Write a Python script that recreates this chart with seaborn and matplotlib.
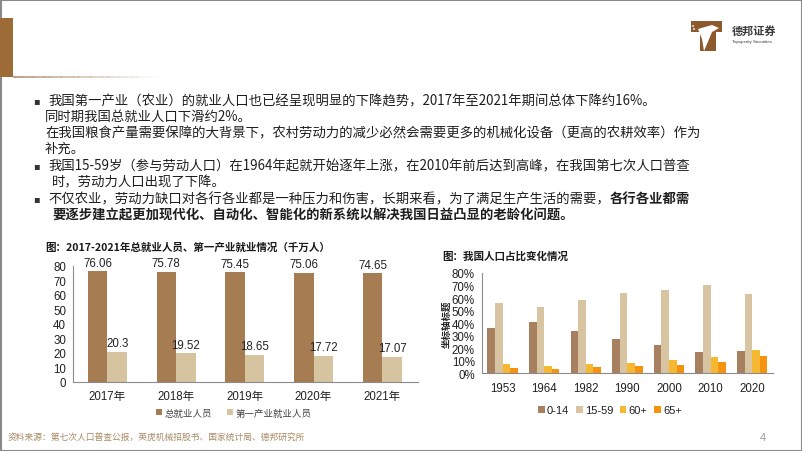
import matplotlib
matplotlib.use("Agg")
import matplotlib.pyplot as plt
import seaborn as sns
import pandas as pd
from matplotlib.patches import Rectangle, Polygon, Circle
from matplotlib.font_manager import FontProperties

# ---------------- data ----------------
emp_years = ["2017年", "2018年", "2019年", "2020年", "2021年"]
emp_total = [76.06, 75.78, 75.45, 75.06, 74.65]
emp_primary = [20.3, 19.52, 18.65, 17.72, 17.07]
emp_series = ["总就业人员", "第一产业就业人员"]

pop_years = ["1953", "1964", "1982", "1990", "2000", "2010", "2020"]
pop_0_14 = [36.3, 40.7, 33.6, 27.7, 22.9, 16.6, 17.95]
pop_15_59 = [56.1, 53.2, 58.8, 63.7, 66.8, 70.1, 63.35]
pop_60p = [7.3, 6.1, 7.6, 8.6, 10.3, 13.3, 18.7]
pop_65p = [4.4, 3.6, 4.9, 5.6, 7.0, 8.9, 13.5]
pop_series = ["0-14", "15-59", "60+", "65+"]

title_left = "图：2017-2021年总就业人员、第一产业就业情况（千万人）"
title_right = "图：我国人口占比变化情况"
ylabel_right = "坐标轴标题"
source_text = "资料来源：第七次人口普查公报，英虎机械招股书、国家统计局、德邦研究所"
page_no = "4"

body_lines = [
    "我国第一产业（农业）的就业人口也已经呈现明显的下降趋势，2017年至2021年期间总体下降约16%。",
    "同时期我国总就业人口下滑约2%。",
    "在我国粮食产量需要保障的大背景下，农村劳动力的减少必然会需要更多的机械化设备（更高的农耕效率）作为",
    "补充。",
    "我国15-59岁（参与劳动人口）在1964年起就开始逐年上涨，在2010年前后达到高峰，在我国第七次人口普查",
    "时，劳动力人口出现了下降。",
    "不仅农业，劳动力缺口对各行各业都是一种压力和伤害，长期来看，为了满足生产生活的需要，",
    "要逐步建立起更加现代化、自动化、智能化的新系统以解决我国日益凸显的老龄化问题。",
]
bold_tail = "各行各业都需"

# ---------------- style ----------------
sns.set_theme(style="white")
CJK = ["Noto Sans CJK SC", "DejaVu Sans"]
NUM = ["Liberation Sans", "Noto Sans CJK SC", "DejaVu Sans"]
plt.rcParams["font.family"] = NUM

W, H = 802, 452
fig = plt.figure(figsize=(W / 100, H / 100), dpi=100)
fig.patch.set_facecolor("white")

bg = fig.add_axes([0, 0, 1, 1], zorder=0)
bg.set_xlim(0, W)
bg.set_ylim(H, 0)
bg.axis("off")

# frame
bg.add_patch(Rectangle((0.5, 0.5), W - 1, H - 1, fill=False, edgecolor="#8a8a8a", lw=1.5))
# top-left decoration
bg.add_patch(Rectangle((0, 19), 13, 59, color="#9C6B36", lw=0))
n = 60
for i in range(n):
    x0 = 13 + i * (145 / n)
    bg.add_patch(Rectangle((x0, 77), 145 / n + 0.3, 2, color="#B59A7E",
                           alpha=max(0.0, 0.9 * (1 - i / n)), lw=0))

# logo
bg.add_patch(Rectangle((691, 22), 31, 11, color="#8C5A2C", lw=0))
bg.add_patch(Rectangle((700, 33), 16, 19, color="#8C5A2C", lw=0))
bg.add_patch(Polygon([(698, 30), (712, 26), (719, 29), (712, 33), (707, 45), (704, 52), (702, 40)],
                     closed=True, color="white", lw=0))
for cx, cy in [(694, 30), (696, 35), (693, 27)]:
    bg.add_patch(Circle((cx, cy), 0.9, color="white", lw=0))
bg.text(732, 31, "德邦证券", fontsize=8, fontweight="bold", color="#3a3a3a",
        family=CJK, va="center", ha="left")
bg.text(732, 42, "Topsperity Securities", fontsize=3.2, color="#3a3a3a",
        va="center", ha="left")

# body text
fs_body = 9.6
tc = "#1e1e1e"
ys = [101, 117, 133, 149, 166, 182, 199, 215]
xs = [48, 45, 45, 45, 48, 52, 48, 52]
for (x, y, s) in zip(xs, ys, body_lines):
    w = "bold" if s.startswith("要逐步") else "normal"
    t = bg.text(x, y, s, fontsize=fs_body, family=CJK, color=tc, va="center", ha="left",
                fontweight=w)
    if s.startswith("不仅农业"):
        bg.annotate(bold_tail, xy=(1, 0.5), xycoords=t, va="center", ha="left",
                    fontsize=fs_body, family=CJK, color=tc, fontweight="bold")
for y in [101, 166, 199]:
    bg.text(33, y, "▪", fontsize=7, family=["DejaVu Sans"], color="#333333",
            va="center", ha="left")

# footer
bg.text(8, 438, source_text, fontsize=6.3, family=CJK, color="#A88B66", va="center", ha="left")
bg.text(760, 438, page_no, fontsize=8, color="#9a9a9a", va="center", ha="left")

# chart titles
bg.text(45, 248, title_left, fontsize=7.6, family=CJK, fontweight="bold", color="#1a1a1a",
        va="center", ha="left")
bg.text(442, 256, title_right, fontsize=7.6, family=CJK, fontweight="bold", color="#1a1a1a",
        va="center", ha="left")


def style_axis(ax, ncat):
    for sp in ["top", "right"]:
        ax.spines[sp].set_visible(False)
    for sp in ["left", "bottom"]:
        ax.spines[sp].set_color("#8c8c8c")
        ax.spines[sp].set_linewidth(0.8)
    ax.set_xticks([i - 0.5 for i in range(ncat + 1)], minor=True)
    ax.tick_params(axis="x", which="major", length=0, pad=6)
    ax.tick_params(axis="x", which="minor", length=3, color="#8c8c8c", width=0.8, direction="out")
    ax.tick_params(axis="y", which="major", length=3, color="#8c8c8c", width=0.8,
                   direction="out", pad=2)
    ax.set_xlabel("")
    ax.set_ylabel("")
    ax.grid(False)
    ax.set_facecolor("none")


# ---------------- left chart ----------------
df1 = pd.DataFrame({
    "year": emp_years * 2,
    "value": emp_total + emp_primary,
    "series": [emp_series[0]] * len(emp_years) + [emp_series[1]] * len(emp_years),
})
ax1 = fig.add_axes([73 / W, 1 - 382.7 / H, 345 / W, 116 / H], zorder=2)
sns.barplot(data=df1, x="year", y="value", hue="series", hue_order=emp_series,
            palette=["#A67C52", "#D6C3A0"], width=0.57, saturation=1, ax=ax1,
            edgecolor="none", linewidth=0, errorbar=None)
ax1.set_ylim(0, 80)
ax1.set_yticks(range(0, 81, 10))
ax1.set_xlim(-0.38, 4.52)
style_axis(ax1, len(emp_years))
ax1.tick_params(axis="both", labelsize=8.3, labelcolor="#222222")
for lab in ax1.get_xticklabels():
    lab.set_fontfamily(NUM)
for cont, vals in zip(ax1.containers, [emp_total, emp_primary]):
    ax1.bar_label(cont, labels=[f"{v:g}" for v in vals], padding=2, fontsize=8.3,
                  color="#222222", clip_on=False)
h1, l1 = ax1.get_legend_handles_labels()
ax1.get_legend().remove()
fig.legend(h1, l1, loc="center", bbox_to_anchor=(234 / W, 1 - 414 / H), ncol=2,
           frameon=False, prop=FontProperties(family=CJK, size=6.8), handlelength=0.6,
           handleheight=0.6, handletextpad=0.3, columnspacing=1.6, labelcolor="#444444")

# ---------------- right chart ----------------
vals2 = pop_0_14 + pop_15_59 + pop_60p + pop_65p
df2 = pd.DataFrame({
    "year": pop_years * 4,
    "value": vals2,
    "series": sum([[s] * len(pop_years) for s in pop_series], []),
})
ax2 = fig.add_axes([481.7 / W, 1 - 374.3 / H, 291.3 / W, 100.3 / H], zorder=2)
sns.barplot(data=df2, x="year", y="value", hue="series", hue_order=pop_series,
            palette=["#A88060", "#D8C4A0", "#F5B830", "#F5930F"], width=0.73, saturation=1,
            ax=ax2, edgecolor="none", linewidth=0, errorbar=None)
ax2.set_ylim(0, 80)
ax2.set_yticks(range(0, 81, 10))
ax2.set_yticklabels([f"{v}%" for v in range(0, 81, 10)])
ax2.set_xlim(-0.5, 6.5)
style_axis(ax2, len(pop_years))
ax2.tick_params(axis="both", labelsize=8.3, labelcolor="#222222")
h2, l2 = ax2.get_legend_handles_labels()
ax2.get_legend().remove()
fig.legend(h2, l2, loc="center", bbox_to_anchor=(610 / W, 1 - 411 / H), ncol=4,
           frameon=False, prop=FontProperties(family=NUM, size=8), handlelength=0.6,
           handleheight=0.6, handletextpad=0.2, columnspacing=0.6, labelcolor="#222222")
bg.text(447, 324, ylabel_right, fontsize=6.8, family=CJK, fontweight="bold", color="#222222",
        rotation=90, va="center", ha="center")

fig.savefig("out.png", dpi=100, facecolor="white")
